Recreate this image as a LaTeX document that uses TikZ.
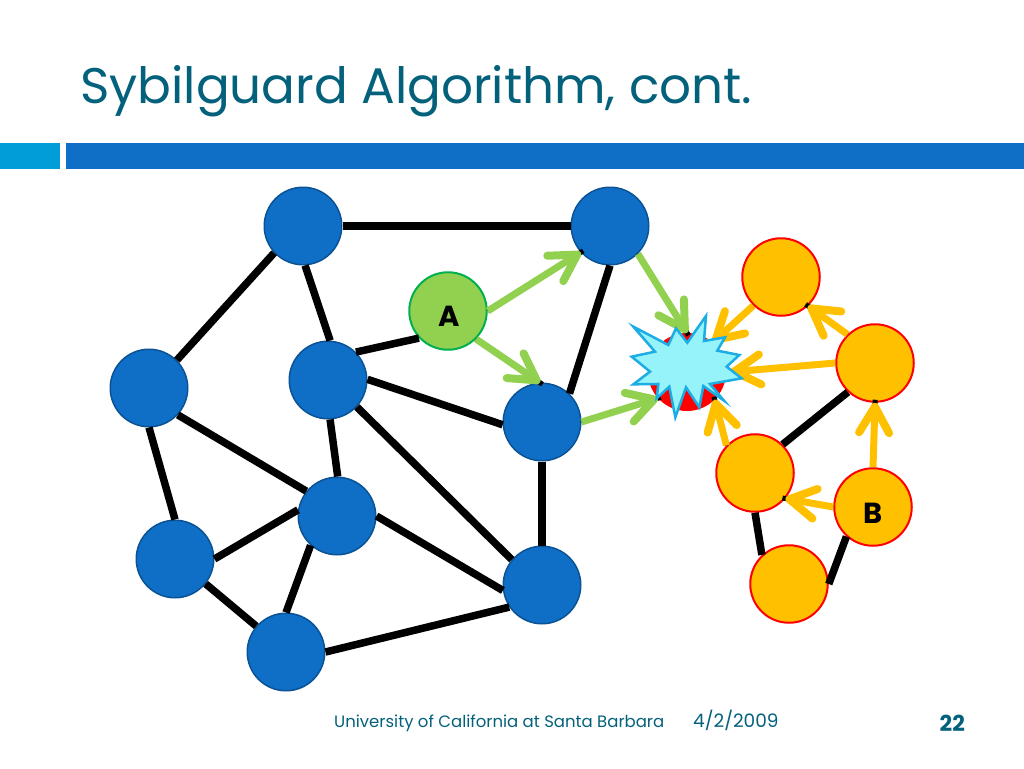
\documentclass[tikz,border=0pt]{standalone}
\usepackage{fontspec}
\setmainfont{Poppins}
\usepackage{tikz}
\usetikzlibrary{arrows.meta}

\definecolor{titleteal}{HTML}{04617B}
\definecolor{barblue}{HTML}{0F6FC6}
\definecolor{barcyan}{HTML}{009DD9}
\definecolor{honestblue}{HTML}{0F6FC6}
\definecolor{honestedge}{HTML}{0B5294}
\definecolor{sybilorange}{HTML}{FFC000}
\definecolor{startgreen}{HTML}{92D050}
\definecolor{startedge}{HTML}{00B050}
\definecolor{burstfill}{HTML}{97F3FA}
\definecolor{burstedge}{HTML}{1CADE4}

\tikzset{
    honest/.style={circle, minimum size=77.5pt, inner sep=0pt, fill=honestblue, draw=honestedge, line width=1.5pt},
    sybil/.style={circle, minimum size=77.5pt, inner sep=0pt, fill=sybilorange, draw=red, line width=2pt},
    start/.style={circle, minimum size=77.5pt, inner sep=0pt, fill=startgreen, draw=startedge, line width=2pt},
    target/.style={circle, minimum size=78pt, inner sep=0pt, fill=red},
    link/.style={line width=7.5pt, black},
    walk/.style={line width=7pt, preaction={draw=black, line width=5pt, shorten >=-3pt, -},
        -{Straight Barb[length=26pt, width=30pt, round, line width=8pt]}},
    greenwalk/.style={walk, startgreen},
    orangewalk/.style={walk, sybilorange},
    label/.style={font=\bfseries\fontsize{29}{29}\selectfont, black, inner sep=0pt}
}

\begin{document}
\begin{tikzpicture}[x=1pt, y=-1pt]
    \useasboundingbox (0,0) rectangle (1024,768);

    % Title and bars
    \node[anchor=base west, inner sep=0pt, text=titleteal, font=\fontsize{50}{50}\selectfont] (title) at (80,103) {Sybilguard Algorithm, cont.};
    \fill[barcyan] (0,143) rectangle (60,169);
    \fill[barblue] (66,143) rectangle (1024,169);

    % Nodes
    \node[honest] (n1) at (303,226) {};
    \node[honest] (n2) at (610,226) {};
    \node[honest] (n3) at (328,380) {};
    \node[honest] (n4) at (149,388) {};
    \node[honest] (n5) at (542,422) {};
    \node[honest] (n6) at (337,516) {};
    \node[honest] (n7) at (175,559) {};
    \node[honest] (n8) at (542,585) {};
    \node[honest] (n9) at (286,652) {};
    \node[start] (a) at (448,311) {};
    \node[target] (victim) at (687,372) {};
    \node[sybil] (s1) at (781,277) {};
    \node[sybil] (s2) at (875,363) {};
    \node[sybil] (s3) at (755,473) {};
    \node[sybil] (b) at (873,507) {};
    \node[sybil] (s4) at (789,584) {};
    \node[label] (alabel) at (449,316) {A};
    \node[label] (blabel) at (873,513) {B};

    % Plain edges
    \draw[link] (n1) -- (n2);
    \draw[link] (n1.223) -- (n4.45);
    \draw[link] (n1.-87) -- (n3.87);
    \draw[link] (n3.45) -- (a.223);
    \draw[link] (n3.1) -- (n5.184);
    \draw[link] (n3.-87) -- (n6.89);
    \draw[link] (n3.-43) -- (n8.140);
    \draw[link] (n2.-90) -- (n5.46);
    \draw[link] (n4.-43) -- (n6.141);
    \draw[link] (n4.-90) -- (n7.90);
    \draw[link] (n7.0) -- (n6.171);
    \draw[link] (n6.228) -- (n9.90);
    \draw[link] (n6.0) -- (n8.188);
    \draw[link] (n7.-39) -- (n9.139);
    \draw[link] (n9.0) -- (n8.214);
    \draw[link] (n5) -- (n8);
    \draw[link] (s2.227) -- (s3.46);
    \draw[link] (s3.-90) -- (s4.133);
    \draw[link] (b.228) -- (s4.0);

    % Walks from A
    \draw[greenwalk] (a.0) -- (n2.222);
    \draw[greenwalk] (a.-45) -- (n5.93);
    \draw[greenwalk] (n2.-45) -- (victim.90);
    \draw[greenwalk] (n5.0) -- (victim.222);

    % Walks from B
    \draw[orangewalk] (s1.226) -- (victim.49);
    \draw[orangewalk] (s2.134) -- (s1.-47);
    \draw[orangewalk] (s2.180) -- ([xshift=4pt]victim.east);
    \draw[orangewalk] (s3.136) -- (victim.-45);
    \draw[orangewalk] (b.90) -- (s2.-90);
    \draw[orangewalk] (b.180) -- (s3.-40);

    % Burst over the victim
    \begin{scope}[shift={(600,230)}, x=0.3333pt, y=-0.3333pt]
        \draw[fill=burstfill, draw=burstedge, line width=2.5pt, line join=miter]
            (100,290) -- (205,345) -- (228,295) -- (262,338) -- (318,258) -- (312,333)
            -- (375,322) -- (352,362) -- (418,375) -- (380,410) -- (425,445) -- (330,462)
            -- (372,512) -- (310,468) -- (298,532) -- (258,472) -- (226,562) -- (208,470)
            -- (170,505) -- (175,462) -- (100,463) -- (150,425) -- (95,380) -- (165,365) -- cycle;
    \end{scope}

    % Footer
    \node[anchor=base west, inner sep=0pt, text=titleteal, font=\fontsize{16.5}{16.5}\selectfont] (school) at (334,727) {University of California at Santa Barbara};
    \node[anchor=base west, inner sep=0pt, text=titleteal, font=\fontsize{18.5}{18.5}\selectfont] (date) at (693,727) {4/2/2009};
    \node[anchor=base east, inner sep=0pt, text=titleteal, font=\bfseries\fontsize{22}{22}\selectfont] (page) at (965,731) {22};
\end{tikzpicture}
\end{document}
